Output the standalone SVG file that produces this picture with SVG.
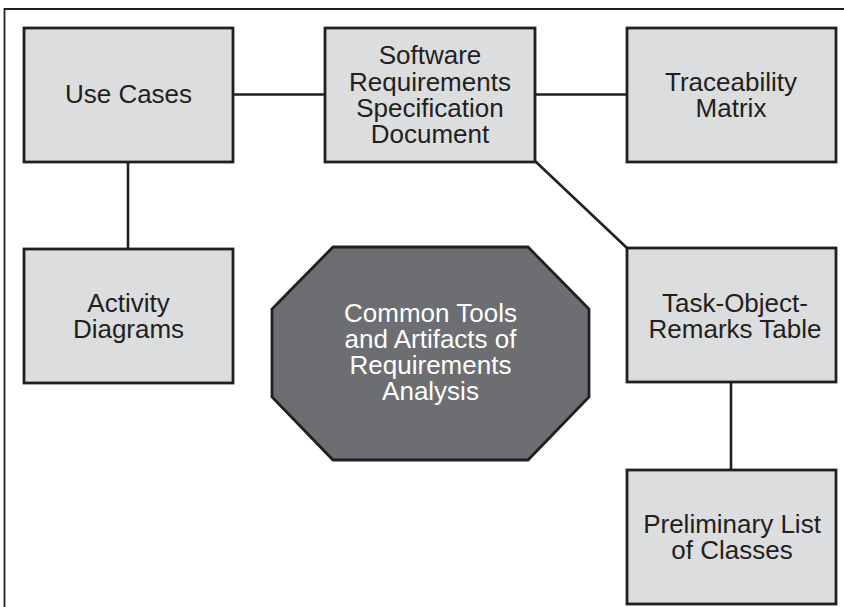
<svg xmlns="http://www.w3.org/2000/svg" width="844" height="607" viewBox="0 0 844 607">
<style>
.box{fill:#dcdddf;stroke:#231f20;stroke-width:2.8}
.oct{fill:#6d6e71;stroke:#231f20;stroke-width:2.8}
.lbl{font-family:"Liberation Sans",Arial,sans-serif;font-size:26px;fill:#231f20;text-anchor:middle}
.wl{fill:#ffffff}
.conn line{stroke:#231f20;stroke-width:2.6}
.frame{fill:none;stroke:#231f20;stroke-width:1.8}
</style>
<rect width="844" height="607" fill="#ffffff"/>
<path class="frame" d="M4.5,607 V9 H844"/>
<g id="connectors" class="conn">
<line x1="233" y1="94.5" x2="325" y2="94.5"/>
<line x1="535" y1="94.5" x2="627" y2="94.5"/>
<line x1="128" y1="162" x2="128" y2="249"/>
<line x1="535" y1="161" x2="627" y2="248"/>
<line x1="731" y1="382" x2="731" y2="470"/>
</g>
<g id="use-cases">
<rect class="box" x="24" y="28" width="209" height="134"/>
<text class="lbl" x="128.5" y="103">Use Cases</text>
</g>
<g id="srs">
<rect class="box" x="325" y="28" width="210" height="134"/>
<text class="lbl" x="430" y="64">Software</text>
<text class="lbl" x="430" y="90.5">Requirements</text>
<text class="lbl" x="430" y="117">Specification</text>
<text class="lbl" x="430" y="143">Document</text>
</g>
<g id="traceability">
<rect class="box" x="627" y="28" width="209" height="134"/>
<text class="lbl" x="731" y="90.5">Traceability</text>
<text class="lbl" x="731" y="116.5">Matrix</text>
</g>
<g id="activity">
<rect class="box" x="24" y="249" width="209" height="134"/>
<text class="lbl" x="128.5" y="311.5">Activity</text>
<text class="lbl" x="128.5" y="338">Diagrams</text>
</g>
<g id="center">
<polygon class="oct" points="333,247 528,247 589,309 589,397 528,460 333,460 272,397 272,309"/>
<text class="lbl wl" x="430.5" y="322">Common Tools</text>
<text class="lbl wl" x="430.5" y="348">and Artifacts of</text>
<text class="lbl wl" x="430.5" y="374">Requirements</text>
<text class="lbl wl" x="430.5" y="400">Analysis</text>
</g>
<g id="task-object-remarks">
<rect class="box" x="627" y="248" width="209" height="134"/>
<text class="lbl" x="735" y="311.5">Task-Object-</text>
<text class="lbl" x="735" y="338">Remarks Table</text>
</g>
<g id="preliminary">
<rect class="box" x="627" y="470" width="209" height="134"/>
<text class="lbl" x="732" y="533">Preliminary List</text>
<text class="lbl" x="732" y="559">of Classes</text>
</g>
</svg>
